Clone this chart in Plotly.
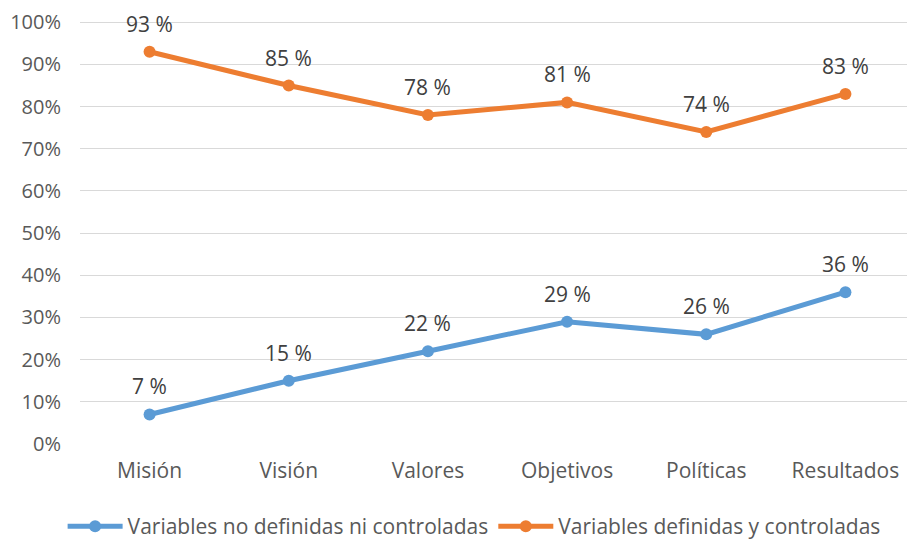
import plotly.graph_objects as go

categorias = ["Misión", "Visión", "Valores", "Objetivos", "Políticas", "Resultados"]
no_definidas = [0.07, 0.15, 0.22, 0.29, 0.26, 0.36]
definidas = [0.93, 0.85, 0.78, 0.81, 0.74, 0.83]

series = [
    ("Variables no definidas ni controladas", no_definidas, "#5B9BD5"),
    ("Variables definidas y controladas", definidas, "#ED7D31"),
]

fig = go.Figure()
annotations = []
for name, vals, color in series:
    fig.add_trace(
        go.Scatter(
            x=categorias,
            y=vals,
            name=name,
            mode="lines+markers",
            line=dict(color=color, width=5),
            marker=dict(color=color, size=12),
        )
    )
    for cat, v in zip(categorias, vals):
        annotations.append(
            dict(
                x=cat,
                y=v,
                text=f"{round(v * 100)} %",
                showarrow=False,
                yshift=28,
                font=dict(size=21, color="#404040"),
            )
        )

# the page body has an 8px margin, so the figure is a bit smaller than the window
fig.update_layout(
    width=907,
    height=533,
    margin=dict(l=72, r=0, t=13, b=97, autoexpand=False),
    plot_bgcolor="white",
    paper_bgcolor="white",
    font=dict(family="Open Sans, Noto Sans, Arial", size=21, color="#595959"),
    annotations=annotations,
    legend=dict(
        orientation="h",
        x=0.472,
        xanchor="center",
        yref="container",
        y=0.027,
        yanchor="middle",
        font=dict(size=21, color="#595959"),
        itemwidth=55,
    ),
    xaxis=dict(
        showgrid=False,
        showline=False,
        ticks="",
        ticklabelstandoff=12,
        range=[-0.5, 5.5],
    ),
    yaxis=dict(
        range=[0, 1.003],
        tickvals=[i / 10 for i in range(11)],
        tickformat=".0%",
        tickfont=dict(size=20),
        showgrid=True,
        gridcolor="#D9D9D9",
        gridwidth=1,
        zeroline=False,
        showline=False,
        ticks="",
        ticklabelstandoff=18,
        ticklabeloverflow="allow",
    ),
)

fig.write_html("out.html")
